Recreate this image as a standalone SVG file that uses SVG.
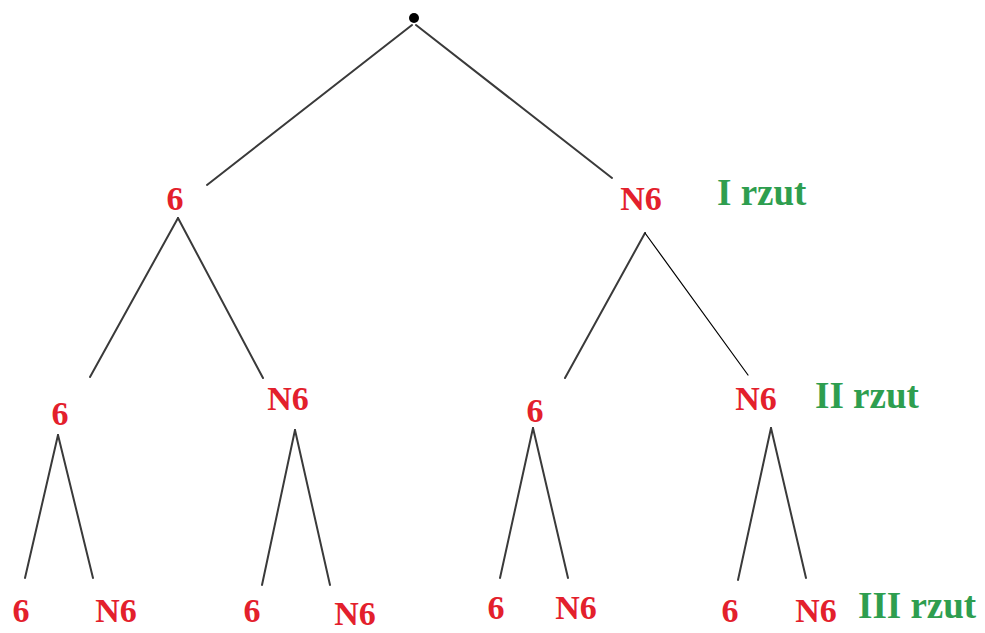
<svg xmlns="http://www.w3.org/2000/svg" width="985" height="633" viewBox="0 0 985 633">
<style>
.n{font-family:"Liberation Serif","Times New Roman",serif;font-weight:bold;font-size:34px;fill:#e3202c;text-anchor:middle}
.l{font-family:"Liberation Serif","Times New Roman",serif;font-weight:bold;font-size:37px;fill:#2e9e4f}
.c line{stroke:#3a3a3a;stroke-width:2;stroke-linecap:round}
</style>
<rect width="985" height="633" fill="#fff"/>
<g class="c" id="connectors">
<line x1="412" y1="25" x2="207" y2="185"/>
<line x1="416" y1="25" x2="612" y2="178"/>
<line x1="178" y1="218" x2="90" y2="377"/>
<line x1="178" y1="218" x2="263" y2="378"/>
<line x1="645" y1="233" x2="565" y2="378"/>
<line x1="645" y1="233" x2="748" y2="375" style="stroke:#000;stroke-width:1.2"/>
<line x1="58" y1="435" x2="25" y2="578"/>
<line x1="58" y1="435" x2="93" y2="578"/>
<line x1="295" y1="430" x2="262" y2="585"/>
<line x1="295" y1="430" x2="330" y2="585"/>
<line x1="533" y1="428" x2="500" y2="578"/>
<line x1="533" y1="428" x2="568" y2="578"/>
<line x1="771" y1="428" x2="738" y2="580"/>
<line x1="771" y1="428" x2="806" y2="578"/>
</g>
<g id="root"><circle cx="414" cy="18" r="5" fill="#000"/></g>
<g id="n1"><text class="n" x="175" y="210">6</text></g>
<g id="n2"><text class="n" x="641" y="210">N6</text></g>
<g id="n3"><text class="n" x="60" y="425">6</text></g>
<g id="n4"><text class="n" x="288" y="410">N6</text></g>
<g id="n5"><text class="n" x="535" y="422">6</text></g>
<g id="n6"><text class="n" x="756" y="410">N6</text></g>
<g id="n7"><text class="n" x="21" y="622">6</text></g>
<g id="n8"><text class="n" x="116" y="622">N6</text></g>
<g id="n9"><text class="n" x="252" y="622">6</text></g>
<g id="n10"><text class="n" x="355" y="625">N6</text></g>
<g id="n11"><text class="n" x="496" y="619">6</text></g>
<g id="n12"><text class="n" x="576" y="619">N6</text></g>
<g id="n13"><text class="n" x="730" y="622">6</text></g>
<g id="n14"><text class="n" x="816" y="622">N6</text></g>
<g id="labels">
<text class="l" x="717" y="205">I rzut</text>
<text class="l" x="815" y="408">II rzut</text>
<text class="l" x="858" y="618">III rzut</text>
</g>
</svg>
